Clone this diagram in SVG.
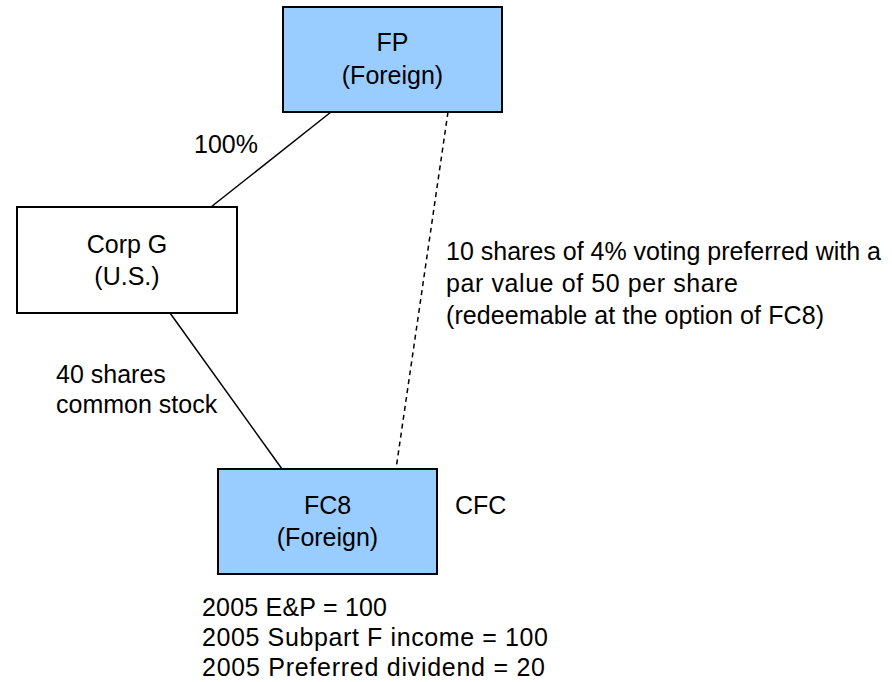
<svg xmlns="http://www.w3.org/2000/svg" width="892" height="682" viewBox="0 0 892 682">
<style>
.box{stroke:#000;stroke-width:2}
.blue{fill:#99ccff}
.white{fill:#fff}
text{font-family:"Liberation Sans",Arial,sans-serif;font-size:25px;fill:#000}
.c{text-anchor:middle}
.ln{stroke:#000;stroke-width:1.5;fill:none}
.dash{stroke-dasharray:5,4}
</style>
<rect width="892" height="682" fill="#fff"/>
<g id="connectors">
<line class="ln" x1="331" y1="112" x2="211" y2="207"/>
<line class="ln" x1="170" y1="313" x2="282" y2="469"/>
<line class="ln dash" x1="448" y1="112" x2="396" y2="469"/>
</g>
<g id="FP">
<rect class="box blue" x="283" y="7" width="219" height="105"/>
<text class="c" x="392.5" y="51">FP</text>
<text class="c" x="392.5" y="84">(Foreign)</text>
</g>
<g id="CorpG">
<rect class="box white" x="17" y="207" width="220" height="106"/>
<text class="c" x="127" y="253">Corp G</text>
<text class="c" x="127" y="285">(U.S.)</text>
</g>
<g id="FC8">
<rect class="box blue" x="218" y="469" width="219" height="105"/>
<text class="c" x="327.5" y="514">FC8</text>
<text class="c" x="327.5" y="546">(Foreign)</text>
</g>
<g id="labels">
<text x="455" y="514">CFC</text>
<text x="194" y="153">100%</text>
<text x="56" y="383">40 shares</text>
<text x="56" y="413">common stock</text>
<text x="446" y="260">10 shares of 4% voting preferred with a</text>
<text x="446" y="292" textLength="292" lengthAdjust="spacing">par value of 50 per share</text>
<text x="446" y="324" textLength="378" lengthAdjust="spacing">(redeemable at the option of FC8)</text>
<text x="202" y="616" textLength="185" lengthAdjust="spacing">2005 E&amp;P = 100</text>
<text x="202" y="646" textLength="346" lengthAdjust="spacing">2005 Subpart F income = 100</text>
<text x="202" y="676" textLength="343" lengthAdjust="spacing">2005 Preferred dividend = 20</text>
</g>
</svg>
